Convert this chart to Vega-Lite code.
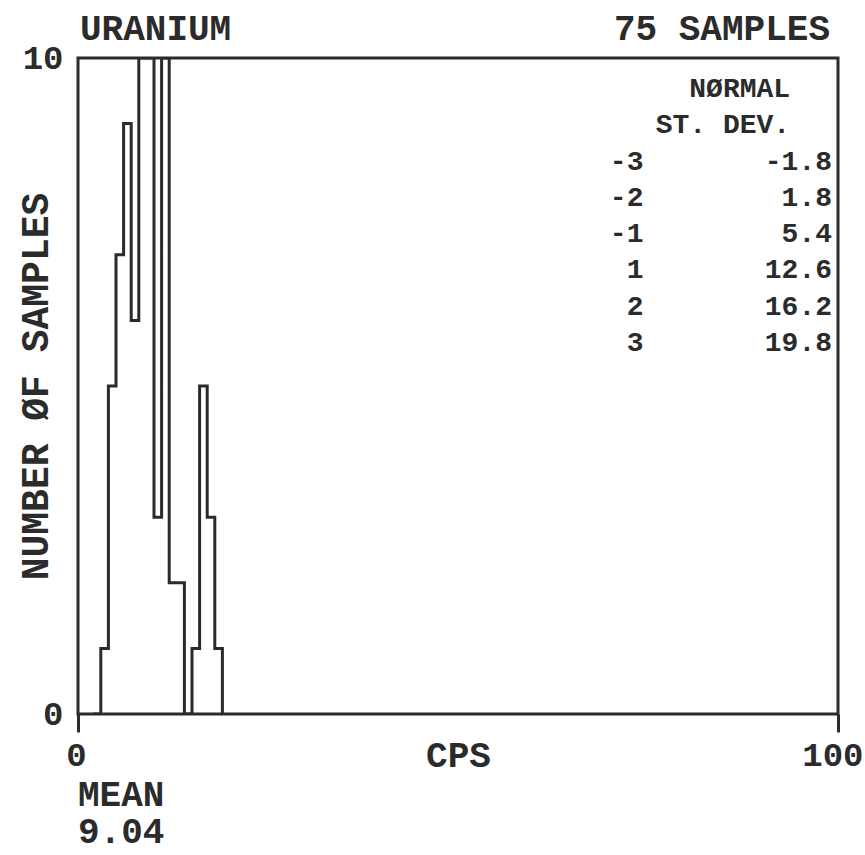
{
  "$schema": "https://vega.github.io/schema/vega-lite/v6.json",
  "width": 760,
  "height": 656,
  "autosize": {"type": "none"},
  "padding": {"left": 78, "top": 58, "right": 27, "bottom": 141},
  "background": "white",
  "config": {
    "locale": {"number": {"decimal": ".", "thousands": ",", "grouping": [3], "currency": ["$", ""], "minus": "-"}},
    "view": {"stroke": "#2b2b2b", "strokeWidth": 3},
    "font": "Liberation Mono",
    "text": {"font": "Liberation Mono", "fontWeight": "bold", "fontSize": 36, "fill": "#2b2b2b"},
    "axis": {
      "grid": false,
      "labelFont": "Liberation Mono", "labelFontWeight": "bold", "labelFontSize": 34, "labelColor": "#2b2b2b",
      "titleFont": "Liberation Mono", "titleFontWeight": "bold", "titleFontSize": 36, "titleColor": "#2b2b2b"
    }
  },
  "layer": [
    {
      "layer": [
        {
          "data": {"values": [
            {"cps": 2, "count": 0}, {"cps": 3, "count": 1}, {"cps": 4, "count": 5}, {"cps": 5, "count": 7},
            {"cps": 6, "count": 9}, {"cps": 7, "count": 6}, {"cps": 8, "count": 10}, {"cps": 9, "count": 10},
            {"cps": 10, "count": 3}, {"cps": 11, "count": 10}, {"cps": 12, "count": 2}, {"cps": 13, "count": 2},
            {"cps": 14, "count": 0}, {"cps": 15, "count": 1}, {"cps": 16, "count": 5}, {"cps": 17, "count": 3},
            {"cps": 18, "count": 1}, {"cps": 19, "count": 0}
          ]},
          "mark": {"type": "line", "interpolate": "step-after", "stroke": "#2b2b2b", "strokeWidth": 3, "clip": true},
          "encoding": {
            "x": {
              "field": "cps", "type": "quantitative",
              "scale": {"domain": [0, 100], "nice": false, "zero": false},
              "axis": {
                "title": "CPS", "values": [0, 100], "domain": false, "format": "d",
                "ticks": true, "tickSize": 18, "tickWidth": 3, "tickColor": "#2b2b2b",
                "labelPadding": 6, "labelFlush": false, "labelBaseline": "top",
                "labelAlign": {"condition": {"test": "datum.value == 100", "value": "right"}, "value": "center"},
                "labelOffset": {"condition": {"test": "datum.value == 100", "value": 25}, "value": -2},
                "titleY": 24, "titleBaseline": "top", "titlePadding": 0
              }
            },
            "y": {
              "field": "count", "type": "quantitative",
              "scale": {"domain": [0, 10], "nice": false},
              "axis": {
                "title": "NUMBER ØF SAMPLES", "titleFontSize": 38, "values": [0, 10], "format": "d",
                "domain": false, "ticks": false,
                "labelPadding": 15, "labelFlush": false, "labelBaseline": "middle",
                "titleX": -31, "titleBaseline": "alphabetic"
              }
            }
          }
        },
        {
          "data": {"values": [{"element": "URANIUM", "mean": 9.04, "samples": 75}]},
          "layer": [
            {
              "mark": {"type": "text", "align": "left", "baseline": "alphabetic", "dx": 2, "dy": -18},
              "encoding": {
                "x": {"datum": 0, "type": "quantitative"},
                "y": {"datum": 10, "type": "quantitative"},
                "text": {"field": "element", "type": "nominal"}
              }
            },
            {
              "mark": {"type": "text", "align": "right", "baseline": "alphabetic", "dx": -8, "dy": -18},
              "encoding": {
                "x": {"datum": 100, "type": "quantitative"},
                "y": {"datum": 10, "type": "quantitative"},
                "text": {"value": "75 SAMPLES"}
              }
            },
            {
              "mark": {"type": "text", "align": "left", "baseline": "middle", "dx": 0},
              "encoding": {
                "x": {"datum": 0, "type": "quantitative"},
                "y": {"datum": -1.23, "type": "quantitative"},
                "text": {"value": "MEAN"}
              }
            },
            {
              "mark": {"type": "text", "align": "left", "baseline": "middle", "dx": 0},
              "encoding": {
                "x": {"datum": 0, "type": "quantitative"},
                "y": {"datum": -1.8, "type": "quantitative"},
                "text": {"field": "mean", "type": "quantitative", "format": ".2f"}
              }
            }
          ]
        }
      ]
    },
    {
      "layer": [
        {
          "data": {"values": [
            {"sd": "-3", "cps": -1.8}, {"sd": "-2", "cps": 1.8}, {"sd": "-1", "cps": 5.4},
            {"sd": "1", "cps": 12.6}, {"sd": "2", "cps": 16.2}, {"sd": "3", "cps": 19.8}
          ]},
          "layer": [
            {
              "mark": {"type": "text", "align": "right", "baseline": "middle", "fontSize": 28},
              "encoding": {
                "x": {"datum": 74.4, "type": "quantitative"},
                "y": {
                  "field": "sd", "type": "ordinal",
                  "scale": {"type": "point", "padding": 0, "domain": ["NORMAL", "ST. DEV.", "-3", "-2", "-1", "1", "2", "3"], "range": [31, 285]},
                  "axis": null
                },
                "text": {"field": "sd", "type": "nominal"}
              }
            },
            {
              "mark": {"type": "text", "align": "right", "baseline": "middle", "dx": -6, "fontSize": 28},
              "encoding": {
                "x": {"datum": 100, "type": "quantitative"},
                "y": {"field": "sd", "type": "ordinal", "axis": null},
                "text": {"field": "cps", "type": "quantitative", "format": ".1f"}
              }
            }
          ]
        },
        {
          "data": {"values": [{"line": "NORMAL", "label": "NØRMAL"}, {"line": "ST. DEV.", "label": "ST. DEV."}]},
          "mark": {"type": "text", "align": "right", "baseline": "middle", "fontSize": 28},
          "encoding": {
            "x": {"datum": 93.7, "type": "quantitative"},
            "y": {"field": "line", "type": "ordinal", "axis": null},
            "text": {"field": "label", "type": "nominal"}
          }
        }
      ]
    }
  ],
  "resolve": {"scale": {"y": "independent"}}
}
